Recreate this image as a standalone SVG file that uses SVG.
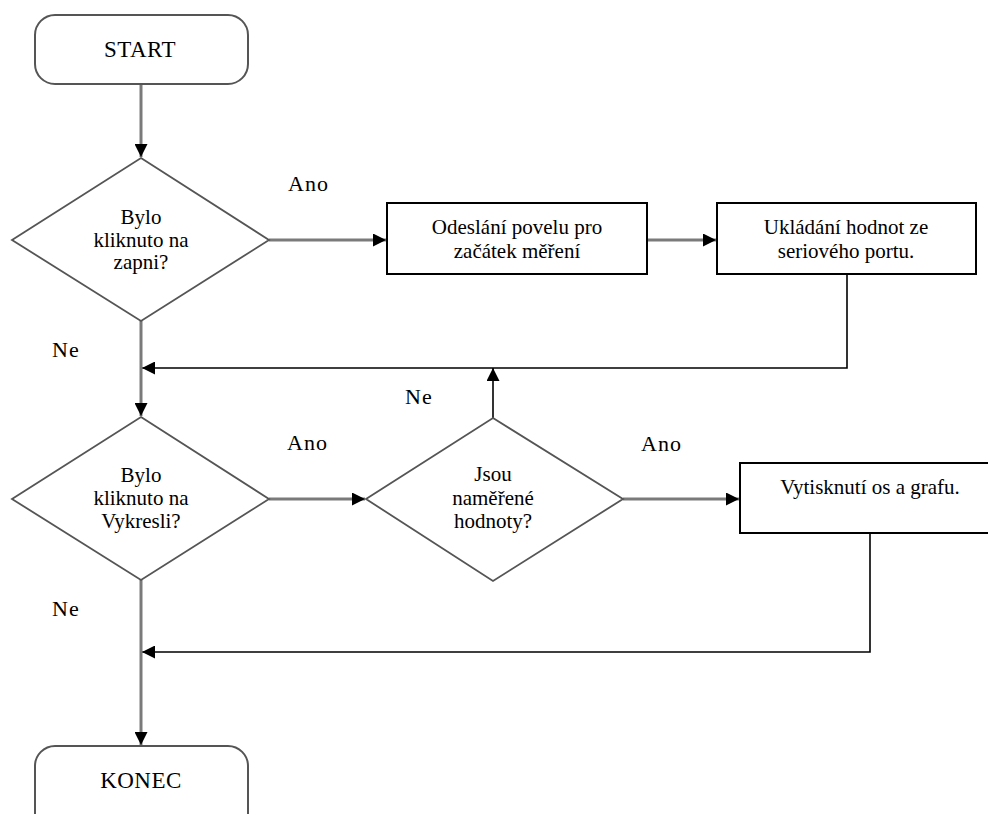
<svg xmlns="http://www.w3.org/2000/svg" width="988" height="814" viewBox="0 0 988 814">
<defs>
<style>
text{font-family:'Liberation Serif',Tinos,'Times New Roman','DejaVu Serif',serif;font-size:21px;fill:#000;text-anchor:middle}
.lbl{font-size:22px;text-anchor:start;letter-spacing:1px}
.term{font-size:23px;letter-spacing:0.5px}
.terminal{fill:#fff;stroke:#555;stroke-width:2}
.dec{fill:#fff;stroke:#555;stroke-width:1.8}
.proc{fill:#fff;stroke:#000;stroke-width:2}
.main{fill:none;stroke:#7a7a7a;stroke-width:3}
.thin{fill:none;stroke:#000;stroke-width:1.6}
</style>
<marker id="ah" viewBox="0 0 10 10" refX="10" refY="5" markerWidth="13" markerHeight="13" markerUnits="userSpaceOnUse" orient="auto">
<path d="M0,0 L10,5 L0,10 z" fill="#000"/>
</marker>
</defs>
<g id="connectors">
<line class="main" x1="141" y1="84" x2="141" y2="157" marker-end="url(#ah)"/>
<line class="main" x1="269" y1="240" x2="386" y2="240" marker-end="url(#ah)"/>
<line class="main" x1="647" y1="240" x2="716" y2="240" marker-end="url(#ah)"/>
<polyline class="thin" points="847,274 847,368 142,368" marker-end="url(#ah)"/>
<line class="main" x1="141" y1="321" x2="141" y2="416" marker-end="url(#ah)"/>
<line class="thin" x1="493" y1="418" x2="493" y2="368" marker-end="url(#ah)"/>
<line class="main" x1="269" y1="499" x2="365" y2="499" marker-end="url(#ah)"/>
<line class="main" x1="623" y1="499" x2="739" y2="499" marker-end="url(#ah)"/>
<polyline class="thin" points="870,533 870,652 142,652" marker-end="url(#ah)"/>
<line class="main" x1="141" y1="580" x2="141" y2="745" marker-end="url(#ah)"/>
</g>
<g id="start">
<rect class="terminal" x="35" y="15" width="213" height="69" rx="20"/>
<text class="term" x="140" y="57">START</text>
</g>
<g id="dec1">
<polygon class="dec" points="141,158 269,240 141,321 12,240"/>
<text x="141" y="224">Bylo</text>
<text x="141" y="247">kliknuto na</text>
<text x="141" y="269">zapni?</text>
</g>
<g id="box1">
<rect class="proc" x="387" y="203" width="260" height="71"/>
<text x="517" y="234">Odeslání povelu pro</text>
<text x="517" y="258">začátek měření</text>
</g>
<g id="box2">
<rect class="proc" x="717" y="203" width="259" height="71"/>
<text x="846" y="234">Ukládání hodnot ze</text>
<text x="846" y="258">seriového portu.</text>
</g>
<g id="dec2">
<polygon class="dec" points="141,417 269,499 141,580 12,499"/>
<text x="141" y="482">Bylo</text>
<text x="141" y="505">kliknuto na</text>
<text x="141" y="528">Vykresli?</text>
</g>
<g id="dec3">
<polygon class="dec" points="493,418 623,499 493,581 366,499"/>
<text x="493" y="481">Jsou</text>
<text x="493" y="505">naměřené</text>
<text x="493" y="528">hodnoty?</text>
</g>
<g id="box3">
<rect class="proc" x="740" y="463" width="260" height="70"/>
<text x="870" y="494">Vytisknutí os a grafu.</text>
</g>
<g id="end">
<rect class="terminal" x="35" y="746" width="213" height="90" rx="20"/>
<text class="term" x="141" y="788">KONEC</text>
</g>
<g id="labels">
<text class="lbl" x="288" y="191">Ano</text>
<text class="lbl" x="52" y="357">Ne</text>
<text class="lbl" x="405" y="404">Ne</text>
<text class="lbl" x="287" y="450">Ano</text>
<text class="lbl" x="641" y="451">Ano</text>
<text class="lbl" x="52" y="616">Ne</text>
</g>
</svg>
